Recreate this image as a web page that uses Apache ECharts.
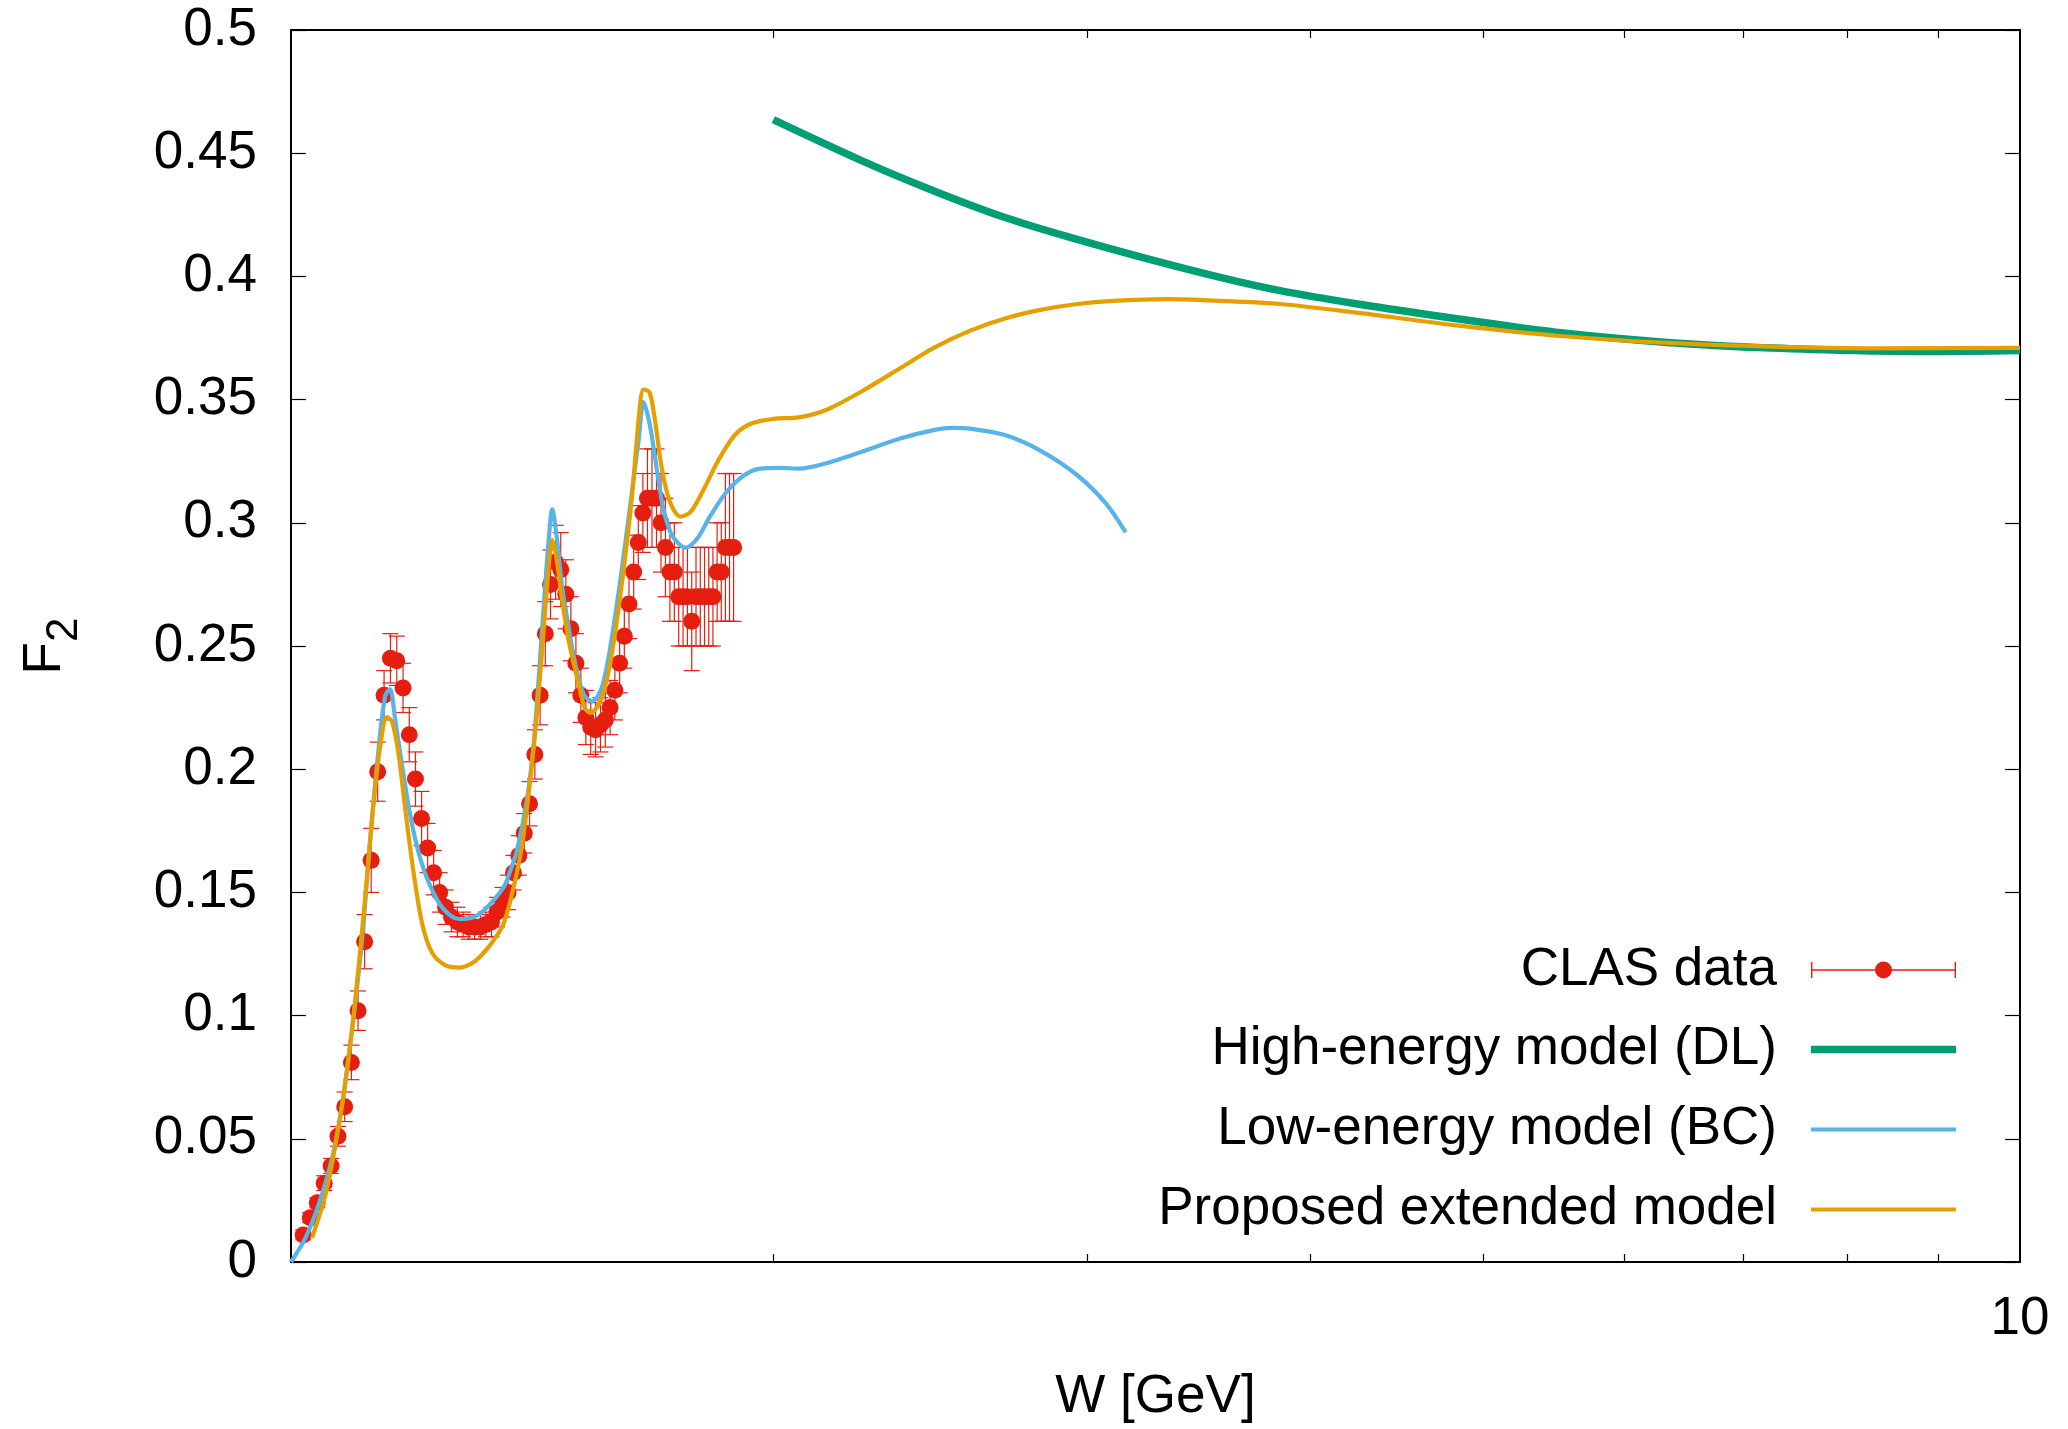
<!DOCTYPE html>
<html>
<head>
<meta charset="utf-8">
<script src="https://cdn.jsdelivr.net/npm/echarts@6/dist/echarts.min.js"></script>
<style>
  html, body { margin: 0; padding: 0; background: #ffffff; }
  #chart { width: 2068px; height: 1429px; }
</style>
</head>
<body>
<div id="chart"></div>
<script>
// CLAS measurements: invariant mass W [GeV], structure function F2 and its uncertainty
const clasW = [1.09,1.10,1.11,1.12,1.13,1.14,1.15,1.16,1.17,1.18,1.19,1.20,1.21,1.22,1.23,1.24,1.25,1.26,1.27,1.28,
  1.29,1.30,1.31,1.32,1.33,1.34,1.35,1.36,1.37,1.38,1.39,1.40,1.41,1.42,1.43,1.44,1.45,1.46,1.47,1.48,
  1.49,1.50,1.51,1.52,1.53,1.54,1.55,1.56,1.57,1.58,1.59,1.60,1.61,1.62,1.63,1.64,1.65,1.66,1.67,1.68,
  1.69,1.70,1.71,1.72,1.73,1.74,1.75,1.76,1.77,1.78,1.79,1.80,1.81,1.82,1.83,1.84,1.85,1.86,1.87,1.88,
  1.89,1.90];
const clasF2 = [0.011,0.018,0.024,0.032,0.039,0.051,0.063,0.081,0.102,0.130,0.163,0.199,0.230,0.245,0.244,0.233,0.214,0.196,0.180,0.168,
  0.158,0.150,0.144,0.140,0.138,0.137,0.136,0.136,0.136,0.137,0.138,0.142,0.146,0.150,0.158,0.165,0.174,0.186,0.206,0.230,
  0.255,0.275,0.284,0.281,0.271,0.257,0.243,0.230,0.221,0.217,0.216,0.218,0.220,0.225,0.232,0.243,0.254,0.267,0.280,0.292,
  0.304,0.31,0.31,0.31,0.30,0.29,0.28,0.28,0.27,0.27,0.27,0.26,0.27,0.27,0.27,0.27,0.27,0.28,0.28,0.29,
  0.29,0.29];
const clasErr = [0.002,0.002,0.002,0.003,0.003,0.004,0.006,0.007,0.008,0.011,0.013,0.012,0.010,0.010,0.010,0.010,0.011,0.011,0.011,0.010,
  0.009,0.008,0.007,0.006,0.006,0.005,0.005,0.005,0.005,0.005,0.006,0.006,0.006,0.007,0.007,0.008,0.008,0.009,0.010,0.012,
  0.013,0.014,0.015,0.015,0.014,0.013,0.012,0.011,0.011,0.011,0.011,0.011,0.011,0.011,0.012,0.012,0.013,0.014,0.015,0.015,
  0.016,0.02,0.02,0.02,0.02,0.02,0.02,0.02,0.02,0.02,0.02,0.02,0.02,0.02,0.02,0.02,0.02,0.02,0.02,0.03,
  0.03,0.03];

// High-energy model (DL)
const dlW  = [2.0, 2.246, 2.463, 2.70, 2.961, 3.247, 3.561, 3.847, 4.235, 4.846, 5.545, 6.343, 7.258, 8.30, 8.88, 10.0];
const dlF2 = [0.4636, 0.4467, 0.4346, 0.4238, 0.4150, 0.4070, 0.3996, 0.3942, 0.3890, 0.3827, 0.3770, 0.3732, 0.3709, 0.3697, 0.3695, 0.3699];

// Low-energy model (BC)
const bcW  = [1.073, 1.093, 1.1118, 1.131, 1.1458, 1.1607, 1.176, 1.1883, 1.2012, 1.2115, 1.2193, 1.227, 1.2388, 1.252, 1.2656, 1.2819,
  1.3042, 1.3324, 1.3555, 1.38, 1.4119, 1.4243, 1.4365, 1.4553, 1.4678, 1.4774, 1.4871, 1.4968, 1.5033, 1.5117, 1.523, 1.5359,
  1.5491, 1.5659, 1.583, 1.600, 1.614, 1.6278, 1.642, 1.6562, 1.670, 1.681, 1.6913, 1.7055, 1.7204, 1.7352, 1.7545, 1.7862,
  1.8133, 1.8448, 1.8826, 1.9263, 1.9666, 2.018, 2.067, 2.1445, 2.246, 2.353, 2.463, 2.520, 2.579, 2.70, 2.828, 2.961, 3.073, 3.152];
const bcF2 = [0.0, 0.0097, 0.0232, 0.0416, 0.0634, 0.0936, 0.1305, 0.1708, 0.2076, 0.2295, 0.2325, 0.2211, 0.2009, 0.1808, 0.1657, 0.1540,
  0.1439, 0.1392, 0.1397, 0.1435, 0.1521, 0.1589, 0.1670, 0.1880, 0.2101, 0.2371, 0.2667, 0.2937, 0.3055, 0.2950, 0.2735, 0.2573,
  0.2424, 0.2303, 0.2276, 0.2317, 0.2424, 0.2586, 0.2775, 0.2977, 0.318, 0.334, 0.349, 0.3395, 0.3220, 0.3058, 0.2950, 0.2899,
  0.2937, 0.3031, 0.3125, 0.3193, 0.3220, 0.3223, 0.3220, 0.3243, 0.3290, 0.3341, 0.3377, 0.3385, 0.3382, 0.3355, 0.3290, 0.3193, 0.3078, 0.2961];

// Proposed extended model
const extW  = [1.1025, 1.1046, 1.1212, 1.1358, 1.1505, 1.1654, 1.1806, 1.1935, 1.204, 1.2143, 1.2225, 1.2329, 1.2441, 1.2574, 1.2711, 1.2874,
  1.3098, 1.333, 1.355, 1.372, 1.392, 1.4119, 1.4303, 1.4461, 1.4617, 1.4745, 1.4871, 1.4968, 1.5033, 1.5117, 1.523, 1.5359,
  1.5525, 1.568, 1.5795, 1.5966, 1.614, 1.630, 1.6491, 1.666, 1.681, 1.6913, 1.7046, 1.7172, 1.7319, 1.750, 1.774, 1.798,
  1.8291, 1.8608, 1.9022, 1.9424, 2.0, 2.0669, 2.1445, 2.246, 2.353, 2.463, 2.579, 2.70, 2.828, 2.961, 3.101, 3.323,
  3.561, 3.847, 4.235, 4.846, 5.545, 6.343, 7.258, 8.30, 10.0];
const extF2 = [0.0098, 0.0115, 0.0265, 0.0466, 0.0718, 0.1053, 0.1473, 0.1858, 0.2093, 0.2211, 0.2194, 0.2060, 0.1825, 0.1573, 0.1372, 0.1255,
  0.1204, 0.1195, 0.1212, 0.1245, 0.1300, 0.1373, 0.1521, 0.1696, 0.1966, 0.2236, 0.2573, 0.2829, 0.2930, 0.2856, 0.2681, 0.2519,
  0.2371, 0.2249, 0.2229, 0.2263, 0.2371, 0.2546, 0.2820, 0.3100, 0.3422, 0.3541, 0.3530, 0.3409, 0.3220, 0.3085, 0.3025, 0.3045,
  0.3139, 0.3247, 0.3355, 0.3402, 0.3422, 0.3428, 0.3460, 0.3537, 0.3625, 0.3712, 0.3780, 0.3830, 0.3865, 0.3888, 0.3901, 0.3908,
  0.3901, 0.3888, 0.3854, 0.3800, 0.3757, 0.3730, 0.3715, 0.3708, 0.3710];

// Axis settings
const W_MIN = 1.073, W_MAX = 10;
const xTickValues = [2, 3, 4, 5, 6, 7, 8, 9];
const xLabelValues = [10];
const F2_MIN = 0, F2_MAX = 0.5, F2_STEP = 0.05;

const FONT = 'Liberation Sans';
const RED = '#e51e10', GREEN = '#009e73', BLUE = '#56b4e9', ORANGE = '#e69f00';
const FS = 53;
const W_THICK = 7.5, W_THIN = 4.2;

const pairs = (xs, ys) => xs.map((x, i) => [x, ys[i]]);

// key sample for the data set: horizontal bar with end caps and a dot
const clasIcon = 'path://M0,0.5H1.4V16.5H0Z M143.6,0.5H145V16.5H143.6Z M0,7.8H145V9.2H0Z ' +
  'M64,8.5A8.5,8.5 0 1 1 81,8.5A8.5,8.5 0 1 1 64,8.5Z';

const keyRows = [
  { name: 'CLAS data', y: 970, icon: clasIcon, h: 17 },
  { name: 'High-energy model (DL)', y: 1049.5, icon: 'rect', h: W_THICK },
  { name: 'Low-energy model (BC)', y: 1129.5, icon: 'rect', h: W_THIN },
  { name: 'Proposed extended model', y: 1209.5, icon: 'rect', h: W_THIN }
];

const tickStyle = { color: '#000', width: 1.2 };
const logX = v => Math.log10(v);

const chart = echarts.init(document.getElementById('chart'), null, { renderer: 'canvas' });

const option = {
  animation: false,
  backgroundColor: '#ffffff',
  textStyle: { fontFamily: FONT, color: '#000' },
  grid: { left: 291, right: 48, top: 30, bottom: 163, show: true, borderColor: '#000', borderWidth: 2, backgroundColor: 'transparent' },
  xAxis: [
    {
      type: 'log', min: W_MIN, max: W_MAX,
      axisLine: { show: false }, axisTick: { show: false }, axisLabel: { show: false }, splitLine: { show: false },
      name: 'W [GeV]', nameLocation: 'middle', nameGap: 109,
      nameTextStyle: { fontSize: FS, color: '#000', fontFamily: FONT }
    },
    {
      type: 'value', min: logX(W_MIN), max: logX(W_MAX), position: 'bottom',
      axisLine: { show: false }, splitLine: { show: false },
      axisTick: { show: true, inside: true, length: 8, customValues: xTickValues.map(logX), lineStyle: tickStyle },
      axisLabel: { show: true, customValues: xLabelValues.map(logX), margin: 31, fontSize: FS, color: '#000', fontFamily: FONT,
        formatter: v => String(Math.round(Math.pow(10, v))) }
    },
    {
      type: 'value', min: logX(W_MIN), max: logX(W_MAX), position: 'top',
      axisLine: { show: false }, splitLine: { show: false },
      axisTick: { show: true, inside: true, length: 8, customValues: xTickValues.map(logX), lineStyle: tickStyle },
      axisLabel: { show: false }
    }
  ],
  yAxis: [
    {
      type: 'value', min: F2_MIN, max: F2_MAX, interval: F2_STEP, position: 'left',
      axisLine: { show: false }, splitLine: { show: false },
      axisTick: { show: true, inside: true, length: 15, lineStyle: tickStyle },
      axisLabel: { margin: 34, fontSize: FS, color: '#000', fontFamily: FONT },
      name: '{f|F}{s|2}', nameLocation: 'middle', nameGap: 204,
      nameTextStyle: {
        color: '#000', fontFamily: FONT,
        rich: {
          f: { fontSize: FS, lineHeight: FS, verticalAlign: 'top', fontFamily: FONT, color: '#000' },
          s: { fontSize: 44, lineHeight: 68, verticalAlign: 'bottom', fontFamily: FONT, color: '#000' }
        }
      }
    },
    {
      type: 'value', min: F2_MIN, max: F2_MAX, interval: F2_STEP, position: 'right',
      axisLine: { show: false }, splitLine: { show: false },
      axisTick: { show: true, inside: true, length: 15, lineStyle: tickStyle },
      axisLabel: { show: false }
    }
  ],
  legend: keyRows.map(r => ({
    data: [{ name: r.name, icon: r.icon }],
    orient: 'vertical', align: 'right', right: 112, top: r.y - 26.5,
    itemWidth: 145, itemHeight: r.h, itemGap: 0, padding: 0, selectedMode: false,
    itemStyle: { borderWidth: 0 },
    textStyle: { fontSize: FS, color: '#000', fontFamily: FONT, padding: [0, 29, 0, 0] }
  })),
  series: [
    {
      name: 'CLAS data', type: 'scatter', z: 3,
      data: pairs(clasW, clasF2),
      symbol: 'circle', symbolSize: 17,
      itemStyle: { color: RED, opacity: 1 }
    },
    {
      name: 'CLAS data', type: 'custom', z: 2, clip: true,
      data: clasW.map((w, i) => [w, clasF2[i] - clasErr[i], clasF2[i] + clasErr[i]]),
      encode: { x: 0, y: [1, 2] },
      itemStyle: { color: RED },
      renderItem: (params, api) => {
        const w = api.value(0);
        const lo = api.coord([w, api.value(1)]);
        const hi = api.coord([w, api.value(2)]);
        const c = 8;
        const style = { stroke: RED, lineWidth: 1.2, fill: null };
        return {
          type: 'group',
          children: [
            { type: 'line', shape: { x1: lo[0], y1: lo[1], x2: hi[0], y2: hi[1] }, style },
            { type: 'line', shape: { x1: lo[0] - c, y1: lo[1], x2: lo[0] + c, y2: lo[1] }, style },
            { type: 'line', shape: { x1: hi[0] - c, y1: hi[1], x2: hi[0] + c, y2: hi[1] }, style }
          ]
        };
      }
    },
    {
      name: 'High-energy model (DL)', type: 'line', z: 4,
      data: pairs(dlW, dlF2), symbol: 'none', showSymbol: false, smooth: 0.35,
      lineStyle: { color: GREEN, width: W_THICK }, itemStyle: { color: GREEN }
    },
    {
      name: 'Low-energy model (BC)', type: 'line', z: 5,
      data: pairs(bcW, bcF2), symbol: 'none', showSymbol: false, smooth: 0.3,
      lineStyle: { color: BLUE, width: W_THIN }, itemStyle: { color: BLUE }
    },
    {
      name: 'Proposed extended model', type: 'line', z: 6,
      data: pairs(extW, extF2), symbol: 'none', showSymbol: false, smooth: 0.3,
      lineStyle: { color: ORANGE, width: W_THIN }, itemStyle: { color: ORANGE }
    }
  ]
};

chart.setOption(option);
</script>
</body>
</html>
